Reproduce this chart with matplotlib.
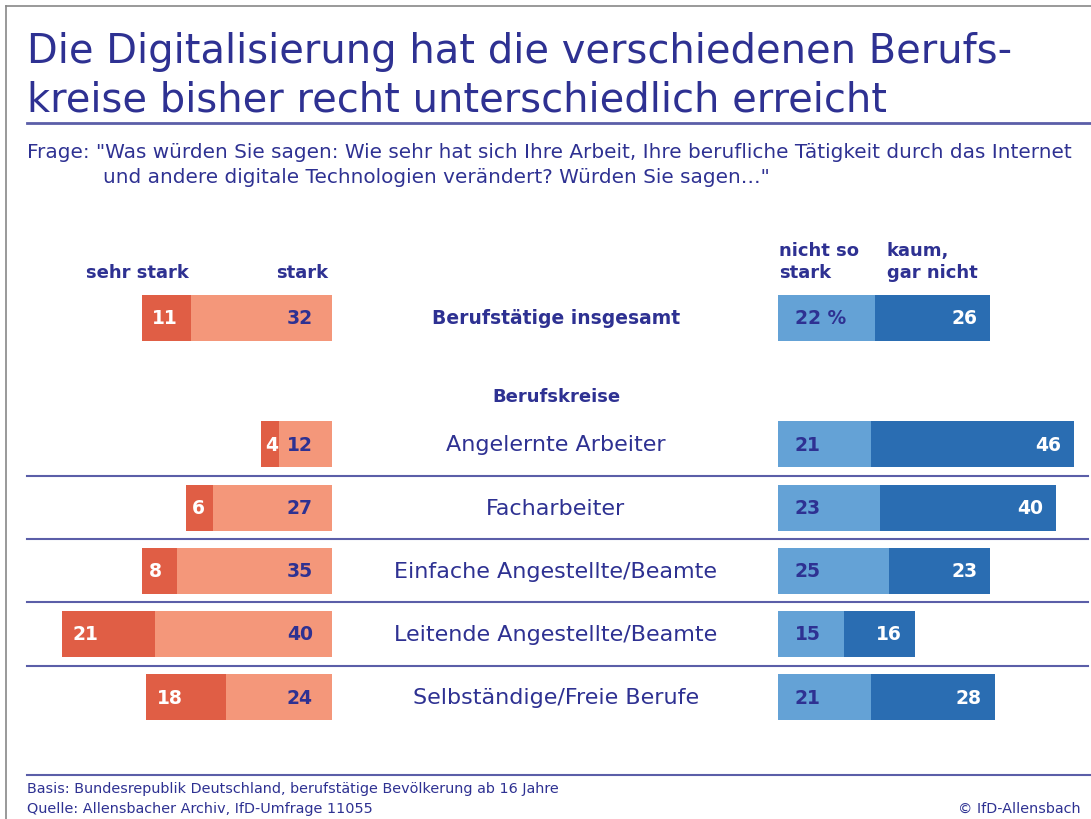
import matplotlib.pyplot as plt
from matplotlib import transforms

# Daten
kategorien = ["Berufstätige insgesamt", "Angelernte Arbeiter", "Facharbeiter",
              "Einfache Angestellte/Beamte", "Leitende Angestellte/Beamte",
              "Selbständige/Freie Berufe"]
zeilen = [0, 2, 3, 4, 5, 6]
sehr_stark = [11, 4, 6, 8, 21, 18]
stark = [32, 12, 27, 35, 40, 24]
nicht_so_stark = [22, 21, 23, 25, 15, 21]
kaum = [26, 46, 40, 23, 16, 28]

# Farben
dunkelblau = "#2e3192"
linie = "#5b5ea8"
rot = "#e05e45"
lachs = "#f4977a"
hellblau = "#64a2d6"
blau = "#2a6db2"

W, H = 1091, 820
PX = 4.42  # Pixel pro Prozentpunkt
plt.rcParams['font.family'] = ['DejaVu Sans']

fig = plt.figure(figsize=(W / 100, H / 100), dpi=100)

# Overlay-Achse in Pixeln fuer Texte und Linien
ov = fig.add_axes([0, 0, 1, 1])
ov.set_xlim(0, W)
ov.set_ylim(H, 0)
ov.axis('off')

# Zeilen: Index 0 bei y=319 px, Abstand 63.2 px
y0, dy = 319, 63.2
top_px = y0 - 0.5 * dy
bot_px = y0 + 6.5 * dy
ax_b = 1 - bot_px / H
ax_h = (bot_px - top_px) / H

axL = fig.add_axes([0, ax_b, 332 / W, ax_h])
axR = fig.add_axes([778 / W, ax_b, (W - 778) / W, ax_h])
for a in (axL, axR):
    a.set_ylim(6.5, -0.5)
    a.axis('off')
axL.set_xlim(-332 / PX, 0)
axR.set_xlim(0, (W - 778) / PX)

bh = 0.73
axL.barh(zeilen, [-v for v in stark], height=bh, color=lachs)
axL.barh(zeilen, [-v for v in sehr_stark], left=[-v for v in stark], height=bh, color=rot)
axR.barh(zeilen, nicht_so_stark, height=bh, color=hellblau)
axR.barh(zeilen, kaum, left=nicht_so_stark, height=bh, color=blau)

for y, s, st, n, k in zip(zeilen, sehr_stark, stark, nicht_so_stark, kaum):
    start = -(s + st)
    pad = min(2.4, s * 0.2)
    axL.text(start + pad, y, str(s), ha='left', va='center', color='white',
             fontsize=13.5, fontweight='bold')
    axL.text(-19 / PX, y, str(st), ha='right', va='center', color=dunkelblau,
             fontsize=13.5, fontweight='bold')
    lab = f"{n} %" if y == 0 else str(n)
    axR.text(17 / PX, y, lab, ha='left', va='center', color=dunkelblau,
             fontsize=13.5, fontweight='bold')
    axR.text(n + k - 13 / PX, y, str(k), ha='right', va='center', color='white',
             fontsize=13.5, fontweight='bold')

# Mittlere Beschriftungen
tr = transforms.blended_transform_factory(fig.transFigure, axL.transData)
for y, kat in zip(zeilen, kategorien):
    if y == 0:
        fig.text(556 / W, y, kat, transform=tr, ha='center', va='center',
                 color=dunkelblau, fontsize=13.5, fontweight='bold')
    else:
        fig.text(556 / W, y, kat, transform=tr, ha='center', va='center',
                 color=dunkelblau, fontsize=16)
fig.text(556 / W, 1.23, "Berufskreise", transform=tr, ha='center', va='center',
         color=dunkelblau, fontsize=13, fontweight='bold')

# Trennlinien
for i in range(2, 6):
    yl = y0 + (i + 0.5) * dy
    ov.plot([27, 1088], [yl, yl], color=linie, lw=1.5)
ov.plot([27, W], [776, 776], color=linie, lw=1.5)
ov.plot([27, W], [124, 124], color=linie, lw=2)

# Rahmen
ov.plot([6, W], [7, 7], color="#888888", lw=1.2)
ov.plot([6, 6], [7, H], color="#888888", lw=1.2)

# Titel
ov.text(27, 63, "Die Digitalisierung hat die verschiedenen Berufs-", color=dunkelblau,
        fontsize=28.8, va='baseline', ha='left')
ov.text(27, 112, "kreise bisher recht unterschiedlich erreicht", color=dunkelblau,
        fontsize=28.8, va='baseline', ha='left')

ov.text(27, 158, 'Frage:', color=dunkelblau, fontsize=14.4, va='baseline')
ov.text(96, 158, '"Was würden Sie sagen: Wie sehr hat sich Ihre Arbeit, Ihre berufliche Tätigkeit durch das Internet',
        color=dunkelblau, fontsize=14.4, va='baseline')
ov.text(103, 183, 'und andere digitale Technologien verändert? Würden Sie sagen…"',
        color=dunkelblau, fontsize=14.4, va='baseline')

# Kopfzeilen
ov.text(137, 278, "sehr stark", color=dunkelblau, fontsize=13, fontweight='bold',
        ha='center', va='baseline')
ov.text(328, 278, "stark", color=dunkelblau, fontsize=13, fontweight='bold',
        ha='right', va='baseline')
ov.text(779, 256, "nicht so", color=dunkelblau, fontsize=13, fontweight='bold', va='baseline')
ov.text(779, 278, "stark", color=dunkelblau, fontsize=13, fontweight='bold', va='baseline')
ov.text(887, 256, "kaum,", color=dunkelblau, fontsize=13, fontweight='bold', va='baseline')
ov.text(887, 278, "gar nicht", color=dunkelblau, fontsize=13, fontweight='bold', va='baseline')

# Fusszeile
ov.text(27, 793, "Basis: Bundesrepublik Deutschland, berufstätige Bevölkerung ab 16 Jahre",
        color=dunkelblau, fontsize=10.4, va='baseline')
ov.text(27, 813, "Quelle: Allensbacher Archiv, IfD-Umfrage 11055",
        color=dunkelblau, fontsize=10.4, va='baseline')
ov.text(1081, 813, "© IfD-Allensbach", color=dunkelblau, fontsize=10.4,
        va='baseline', ha='right')

fig.savefig("out.png", dpi=100)
